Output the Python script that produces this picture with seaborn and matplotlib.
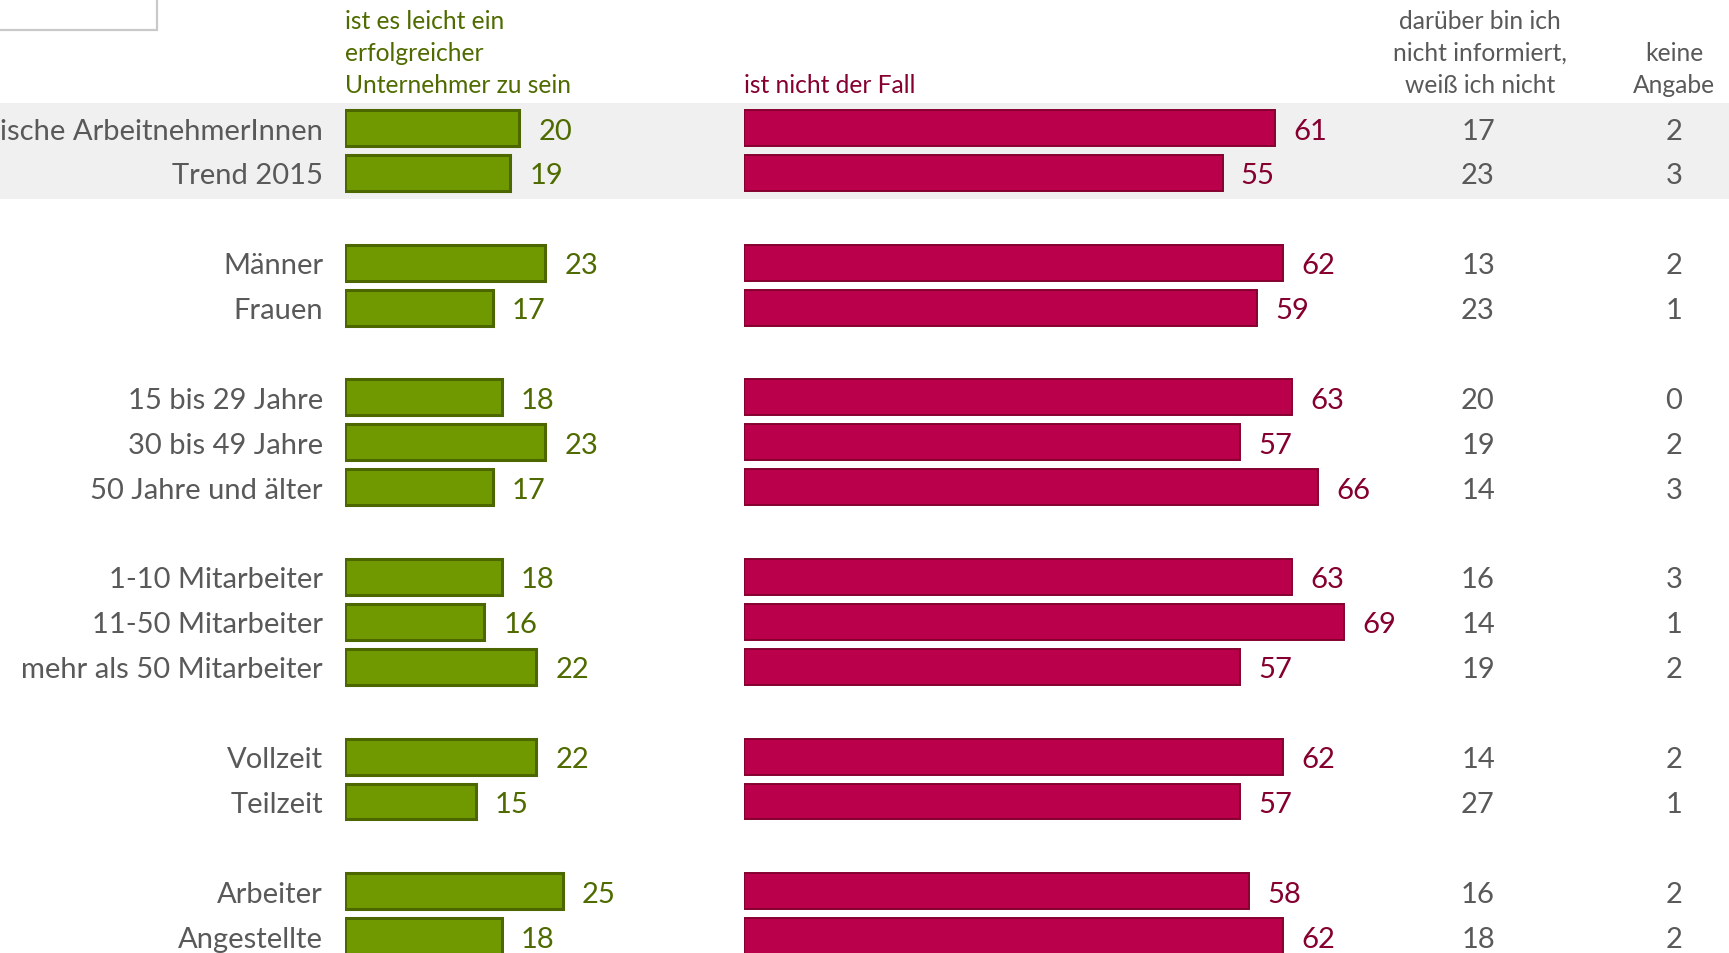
import matplotlib
matplotlib.use("Agg")
import matplotlib.pyplot as plt
import seaborn as sns
import pandas as pd
from matplotlib.patches import Rectangle

# ---------------- data ----------------
groups = [
    ["Österreichische ArbeitnehmerInnen", "Trend 2015"],
    ["Männer", "Frauen"],
    ["15 bis 29 Jahre", "30 bis 49 Jahre", "50 Jahre und älter"],
    ["1-10 Mitarbeiter", "11-50 Mitarbeiter", "mehr als 50 Mitarbeiter"],
    ["Vollzeit", "Teilzeit"],
    ["Arbeiter", "Angestellte"],
]
leicht = [20, 19, 23, 17, 18, 23, 17, 18, 16, 22, 22, 15, 25, 18]
nicht_der_fall = [61, 55, 62, 59, 63, 57, 66, 63, 69, 57, 62, 57, 58, 62]
weiss_nicht = [17, 23, 13, 23, 20, 19, 14, 16, 14, 19, 14, 27, 16, 18]
keine_angabe = [2, 3, 2, 1, 0, 2, 3, 3, 1, 2, 2, 1, 2, 2]

head_leicht = ["ist es leicht ein", "erfolgreicher", "Unternehmer zu sein"]
head_nicht = ["ist nicht der Fall"]
head_weiss = ["darüber bin ich", "nicht informiert,", "weiß ich nicht"]
head_keine = ["keine", "Angabe"]

# ---------------- style ----------------
sns.set_theme(style="white")
plt.rcParams["font.family"] = ["Lato", "DejaVu Sans"]

GREEN, GREEN_EDGE, GREEN_TXT = "#709900", "#4c6600", "#4f6b00"
RED, RED_EDGE, RED_TXT = "#bb004b", "#85002f", "#85002f"
GRAY_TXT = "#595959"
BAND = "#f0f0f0"

labels = [l for g in groups for l in g]
slots = []
s = 0
for g in groups:
    for _ in g:
        slots.append(s)
        s += 1
    s += 1
df = pd.DataFrame({"label": labels, "slot": slots, "leicht": leicht,
                   "nicht": nicht_der_fall, "weiss": weiss_nicht, "keine": keine_angabe})

W, H = 1729, 954
PX = 8.7                      # pixels per percentage point
ROW0, STEP = 129, 44.9        # pixel centre of first row, row pitch
ytop, ybot = -ROW0 / STEP, (H - ROW0) / STEP

fig = plt.figure(figsize=(W / 100, H / 100), dpi=100)
fig.patch.set_facecolor("white")

def fx(px):
    return px / W

def fy(py):
    return 1 - py / H

# background band
axbg = fig.add_axes([0, 0, 1, 1])
axbg.set_xlim(0, W)
axbg.set_ylim(ybot, ytop)
axbg.axhspan(-0.56, 1.58, color=BAND, lw=0)
axbg.axis("off")

# top-left frame fragment
fig.add_artist(Rectangle((fx(-3), fy(31)), 160 / W, 40 / H, transform=fig.transFigure,
                         facecolor="white", edgecolor="#c9c9c9", lw=1.6))

FS = 21
HFS = 17.7

# green bars
GX, GW = 345, 330
axg = fig.add_axes([fx(GX), 0, GW / W, 1])
axg.patch.set_alpha(0)
sns.barplot(data=df, x="leicht", y="slot", orient="h", native_scale=True, width=0.8,
            color=GREEN, saturation=1, edgecolor=GREEN_EDGE, linewidth=2.2,
            errorbar=None, ax=axg)
axg.set_xlim(0, GW / PX)
axg.set_ylim(ybot, ytop)
axg.axis("off")
for lab, sl, v in zip(labels, slots, leicht):
    axg.text(v + 2.2, sl, str(v), ha="left", va="center_baseline", fontsize=FS,
             color=GREEN_TXT, clip_on=False)
    axg.text(-22 / PX, sl, lab, ha="right", va="center_baseline", fontsize=FS,
             color=GRAY_TXT, clip_on=False)

# red bars
RX, RW = 744, 660
axr = fig.add_axes([fx(RX), 0, RW / W, 1])
axr.patch.set_alpha(0)
sns.barplot(data=df, x="nicht", y="slot", orient="h", native_scale=True, width=0.8,
            color=RED, saturation=1, edgecolor=RED_EDGE, linewidth=1.4,
            errorbar=None, ax=axr)
axr.set_xlim(0, RW / PX)
axr.set_ylim(ybot, ytop)
axr.axis("off")
COL3, COL4 = 1478, 1674
for sl, v, w, k in zip(slots, nicht_der_fall, weiss_nicht, keine_angabe):
    axr.text(v + 2.1, sl, str(v), ha="left", va="center_baseline", fontsize=FS,
             color=RED_TXT, clip_on=False)
    axr.text((COL3 - RX) / PX, sl, str(w), ha="center", va="center_baseline", fontsize=FS,
             color=GRAY_TXT, clip_on=False)
    axr.text((COL4 - RX) / PX, sl, str(k), ha="center", va="center_baseline", fontsize=FS,
             color=GRAY_TXT, clip_on=False)

# headers
BASE = [29, 61, 93]
for i, t in enumerate(head_leicht):
    fig.text(fx(GX), fy(BASE[i]), t, ha="left", va="baseline", fontsize=HFS, color=GREEN_TXT)
fig.text(fx(RX), fy(BASE[2]), head_nicht[0], ha="left", va="baseline", fontsize=HFS, color=RED_TXT)
for i, t in enumerate(head_weiss):
    fig.text(fx(1480), fy(BASE[i]), t, ha="center", va="baseline", fontsize=HFS, color=GRAY_TXT)
for i, t in enumerate(head_keine):
    fig.text(fx(1674), fy(BASE[i + 1]), t, ha="center", va="baseline", fontsize=HFS, color=GRAY_TXT)

fig.savefig("out.png", dpi=100, facecolor="white")
